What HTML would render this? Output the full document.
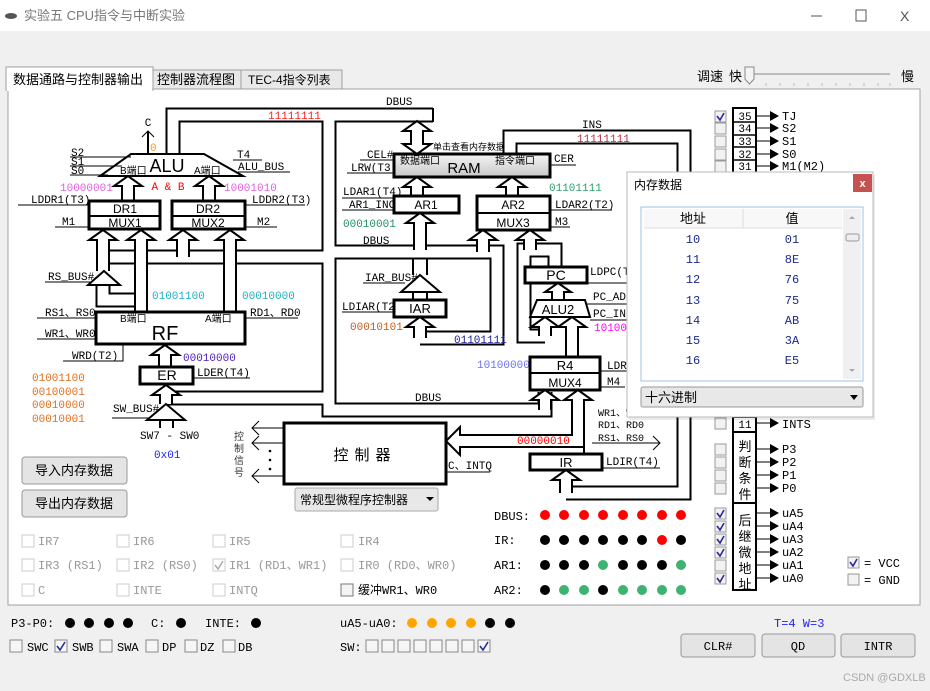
<!DOCTYPE html>
<html><head><meta charset="utf-8"><style>
html,body{margin:0;padding:0;width:930px;height:691px;overflow:hidden;background:#f0f0f0}
svg{display:block}
.m{font-family:"Liberation Mono","Noto Sans CJK SC",monospace;font-size:11px;fill:#000}
.s{font-family:"Liberation Sans","Noto Sans CJK SC",sans-serif;fill:#000}
.g{fill:#999}
</style></head><body>
<svg width="930" height="691" viewBox="0 0 930 691" xmlns="http://www.w3.org/2000/svg">
<!-- title bar -->
<rect x="0" y="0" width="930" height="31" fill="#fff"/>
<ellipse cx="11" cy="16" rx="6" ry="3" fill="#555"/>
<text x="24" y="20" class="s" font-size="13" fill="#777" style="fill:#777">实验五 CPU指令与中断实验</text>
<line x1="811" y1="16" x2="822" y2="16" stroke="#555"/>
<rect x="856" y="10" width="10" height="11" fill="none" stroke="#555"/>
<text x="900" y="21" class="s" font-size="14" style="fill:#555">X</text>
<!-- tabs -->
<rect x="8" y="89" width="912" height="516" fill="#fff" stroke="#a0a0a0"/>
<rect x="153" y="70" width="88" height="19" fill="#e8e8e8" stroke="#a0a0a0"/>
<rect x="241" y="70" width="101" height="19" fill="#e8e8e8" stroke="#a0a0a0"/>
<rect x="6" y="67" width="147" height="23" fill="#fff" stroke="#a0a0a0"/>
<rect x="7" y="88" width="145" height="3" fill="#fff"/>
<text x="13" y="84" class="s" font-size="13">数据通路与控制器输出</text>
<text x="157" y="84" class="s" font-size="13">控制器流程图</text>
<text x="248" y="84" class="s" font-size="12">TEC-4指令列表</text>
<text x="697" y="81" class="s" font-size="13">调速</text>
<text x="729" y="81" class="s" font-size="13">快</text>
<text x="901" y="81" class="s" font-size="13">慢</text>
<line x1="750" y1="74" x2="890" y2="74" stroke="#bbb" stroke-width="2"/>
<path d="M745,67 h9 v12 l-4.5,5 l-4.5,-5 z" fill="#f4f4f4" stroke="#888"/>
<g stroke="#bbb"><line x1="766" y1="83" x2="766" y2="86"/><line x1="780" y1="83" x2="780" y2="86"/><line x1="794" y1="83" x2="794" y2="86"/><line x1="808" y1="83" x2="808" y2="86"/><line x1="822" y1="83" x2="822" y2="86"/><line x1="836" y1="83" x2="836" y2="86"/><line x1="850" y1="83" x2="850" y2="86"/><line x1="864" y1="83" x2="864" y2="86"/><line x1="878" y1="83" x2="878" y2="86"/><line x1="890" y1="83" x2="890" y2="86"/></g>

<!-- buses -->
<defs>
<g id="bus" fill="none">
<path d="M173,154 V115 H433"/>
<path d="M329,115 V410 H545 V392"/>
<path d="M110,257 H329"/>
<path d="M329,252 H497 V338 H420"/>
<path d="M166,398 H329"/>
<path d="M510,154 V137 H684 V493 H566"/>
<path d="M555,267 V250 H524 V336 H545"/>
<path d="M103,285 V300 H141"/>
</g>
</defs>
<use href="#bus" stroke="#000" stroke-width="15"/>
<use href="#bus" stroke="#fff" stroke-width="11"/>
<line x1="433" y1="108" x2="433" y2="122" stroke="#000" stroke-width="2"/>

<!-- arrows -->
<g fill="#fff" stroke="#000" stroke-width="2">
<path d="M122,200 V186 H114 L128,176 L142,186 H134 V200"/>
<path d="M203,200 V186 H195 L209,176 L223,186 H215 V200"/>
<path d="M97,271 V240 H89 L103,230 L117,240 H109 V271"/>
<path d="M135,312 V240 H127 L141,230 L155,240 H147 V312"/>
<path d="M177,257 V240 H169 L183,230 L197,240 H189 V257"/>
<path d="M224,312 V240 H216 L230,230 L244,240 H236 V312"/>
<path d="M159,367 V355 H151 L165,345 L179,355 H171 V367"/>
<path d="M160,404 V395 H152 L166,385 L180,395 H172 V404"/>
<path d="M411,196 V187 H403 L417,177 L431,187 H423 V196"/>
<path d="M506,196 V187 H498 L512,177 L526,187 H518 V196"/>
<path d="M411,144 V131 H403 L417,121 L431,131 H423 V144 H431 L417,154 L403,144 Z"/>
<path d="M414,250 V223 H406 L420,213 L434,223 H426 V250"/>
<path d="M477,252 V240 H469 L483,230 L497,240 H489 V252"/>
<path d="M524,250 V240 H516 L530,230 L544,240 H536 V250"/>
<path d="M414,338 V327 H406 L420,317 L434,327 H426 V338"/>
<path d="M552,300 V292 H545 L558,283 L571,292 H564 V300"/>
<path d="M539,336 V327 H531 L545,317 L559,327 H551 V336"/>
<path d="M566,357 V327 H558 L572,317 L586,327 H578 V357"/>
<path d="M539,410 V400 H531 L545,390 L559,400 H551 V410"/>
<path d="M584,454 V447 H460 V455 L446,441 L460,427 V435 H572 V400 H564 L578,390 L592,400 H584 V454"/>
<path d="M560,493 V480 H552 L566,470 L580,480 H572 V493"/>
<polygon points="104,271 120,285 88,285"/>
<polygon points="420,275 440,292 401,292"/>
<polygon points="166,404 185,420 147,420"/>
</g>
<g stroke="#000" stroke-width="2"><line x1="413" y1="258" x2="413" y2="275"/><line x1="427" y1="258" x2="427" y2="275"/><line x1="413" y1="292" x2="413" y2="300"/><line x1="427" y1="292" x2="427" y2="300"/><line x1="160" y1="420" x2="160" y2="428"/><line x1="173" y1="420" x2="173" y2="428"/><line x1="148" y1="153" x2="148" y2="131"/></g>
<path d="M142,137 L148,131 L154,137" fill="none" stroke="#000"/>

<!-- ALU -->
<polygon points="131,154 204,154 243,176 100,176" fill="#fff" stroke="#000" stroke-width="2"/>
<text x="167" y="172" class="s" font-size="18" text-anchor="middle">ALU</text>
<text x="120" y="174" class="s" font-size="10">B端口</text>
<text x="194" y="174" class="s" font-size="10">A端口</text>
<text x="168" y="190" class="m" text-anchor="middle" style="fill:#f00">A &amp; B</text>
<text x="148" y="126" class="m" text-anchor="middle">C</text>
<text x="150" y="151" class="m" style="fill:#f0a020">0</text>
<g stroke="#000"><line x1="70" y1="157" x2="131" y2="157"/><line x1="70" y1="166" x2="122" y2="166"/><line x1="70" y1="175" x2="108" y2="175"/>
<line x1="233" y1="160" x2="262" y2="160"/><line x1="238" y1="172" x2="290" y2="172"/>
<line x1="18" y1="205" x2="89" y2="205"/><line x1="245" y1="205" x2="305" y2="205"/>
<line x1="55" y1="227" x2="89" y2="227"/><line x1="245" y1="227" x2="277" y2="227"/>
<line x1="45" y1="282" x2="90" y2="282"/>
<line x1="37" y1="318" x2="96" y2="318"/><line x1="37" y1="339" x2="96" y2="339"/><line x1="245" y1="318" x2="298" y2="318"/>
<polyline points="63,361 123,361 123,345" fill="none"/>
<line x1="193" y1="378" x2="250" y2="378"/><line x1="112" y1="418" x2="150" y2="418"/>
<line x1="360" y1="160" x2="393" y2="160"/><line x1="347" y1="173" x2="393" y2="173"/><line x1="550" y1="165" x2="576" y2="165"/>
<line x1="342" y1="198" x2="394" y2="198"/><line x1="342" y1="210" x2="394" y2="210"/>
<line x1="551" y1="210" x2="612" y2="210"/><line x1="551" y1="227" x2="570" y2="227"/>
<line x1="363" y1="283" x2="405" y2="283"/><line x1="342" y1="312" x2="394" y2="312"/>
<line x1="587" y1="283" x2="630" y2="283"/><line x1="583" y1="304" x2="630" y2="304"/><line x1="590" y1="320" x2="630" y2="320"/>
<line x1="600" y1="371" x2="630" y2="371"/><line x1="600" y1="387" x2="625" y2="387"/>
<line x1="446" y1="472" x2="490" y2="472"/><line x1="602" y1="468" x2="660" y2="468"/>
<line x1="592" y1="443" x2="660" y2="443"/>
<line x1="252" y1="428" x2="284" y2="428"/><line x1="252" y1="443" x2="284" y2="443"/><line x1="252" y1="476" x2="284" y2="476"/>
</g>
<g fill="none" stroke="#000"><path d="M653,436 L660,443 L653,450"/><path d="M259,421 L252,428 L259,435"/><path d="M259,436 L252,443 L259,450"/><path d="M259,469 L252,476 L259,483"/></g>
<g class="m">
<text x="71" y="156">S2</text><text x="71" y="165">S1</text><text x="71" y="174">S0</text>
<text x="237" y="158">T4</text><text x="238" y="170">ALU_BUS</text>
<text x="31" y="203">LDDR1(T3)</text><text x="252" y="203">LDDR2(T3)</text>
<text x="62" y="225">M1</text><text x="257" y="225">M2</text>
<text x="48" y="280">RS_BUS#</text>
<text x="45" y="316">RS1、RS0</text><text x="45" y="337">WR1、WR0</text><text x="250" y="316">RD1、RD0</text>
<text x="72" y="359">WRD(T2)</text><text x="197" y="376">LDER(T4)</text>
<text x="113" y="412">SW_BUS#</text><text x="140" y="439">SW7 - SW0</text>
<text x="386" y="105">DBUS</text><text x="582" y="128">INS</text>
<text x="367" y="158">CEL#</text><text x="351" y="171">LRW(T3)</text><text x="554" y="162">CER</text>
<text x="343" y="195">LDAR1(T4)</text><text x="349" y="208">AR1_INC</text>
<text x="363" y="244">DBUS</text>
<text x="555" y="208">LDAR2(T2)</text><text x="555" y="225">M3</text>
<text x="365" y="281">IAR_BUS#</text><text x="342" y="310">LDIAR(T2)</text>
<text x="590" y="275">LDPC(T4</text><text x="593" y="300">PC_ADD</text><text x="593" y="317">PC_INC</text>
<text x="607" y="369">LDR4</text><text x="607" y="385">M4</text>
<text x="415" y="401">DBUS</text>
<text x="448" y="469">C、INTQ</text><text x="606" y="465">LDIR(T4)</text>
</g>
<g class="m" font-size="10" style="font-size:10px"><text x="598" y="416">WR1、W</text><text x="598" y="428">RD1、RD0</text><text x="598" y="441">RS1、RS0</text></g>
<!-- colored numbers -->
<g class="m">
<text x="268" y="119" style="fill:#ff2020">11111111</text>
<text x="577" y="142" style="fill:#c03040">11111111</text>
<text x="60" y="191" style="fill:#e060e0">10000001</text><text x="224" y="191" style="fill:#e060e0">10001010</text>
<text x="152" y="299" style="fill:#20b0c0">01001100</text><text x="242" y="299" style="fill:#20b0c0">00010000</text>
<text x="183" y="361" style="fill:#5020c0">00010000</text>
<text x="32" y="381" style="fill:#e07020">01001100</text><text x="32" y="395" style="fill:#e07020">00100001</text><text x="32" y="408" style="fill:#e07020">00010000</text><text x="32" y="422" style="fill:#e07020">00010001</text>
<text x="154" y="458" style="fill:#2020ff">0x01</text>
<text x="549" y="191" style="fill:#30a070">01101111</text>
<text x="343" y="227" style="fill:#209060">00010001</text>
<text x="350" y="330" style="fill:#c06020">00010101</text>
<text x="454" y="343" style="fill:#2020a0">01101111</text>
<text x="594" y="331" style="fill:#ff00ff">10100000</text>
<text x="477" y="368" style="fill:#7070f0">10100000</text>
<text x="517" y="444" style="fill:#ff0000">00000010</text>
</g>
<!-- boxes -->
<defs><linearGradient id="rg" x1="0" y1="0" x2="0" y2="1"><stop offset="0" stop-color="#f4f4f4"/><stop offset="1" stop-color="#c8c8c8"/></linearGradient></defs>
<g stroke="#000" stroke-width="3" fill="#fff">
<rect x="89" y="201" width="71" height="28"/><rect x="172" y="201" width="73" height="28"/>
<rect x="96" y="312" width="149" height="32"/>
<rect x="140" y="367" width="53" height="17"/>
<rect x="394" y="154" width="156" height="23" fill="url(#rg)"/>
<rect x="394" y="196" width="65" height="17"/>
<rect x="477" y="196" width="73" height="34"/>
<rect x="394" y="300" width="52" height="17"/>
<rect x="525" y="267" width="62" height="16"/>
<rect x="530" y="357" width="70" height="33"/>
<rect x="530" y="454" width="72" height="16"/>
<rect x="284" y="423" width="162" height="61"/>
</g>
<g stroke="#000" stroke-width="2"><line x1="89" y1="216" x2="160" y2="216"/><line x1="172" y1="216" x2="245" y2="216"/><line x1="477" y1="213" x2="550" y2="213"/><line x1="530" y1="373" x2="600" y2="373"/></g>
<polygon points="537,300 585,300 590,317 530,317" fill="#fff" stroke="#000" stroke-width="2"/>
<g class="s" font-size="12" text-anchor="middle">
<text x="125" y="213">DR1</text><text x="125" y="227">MUX1</text>
<text x="208" y="213">DR2</text><text x="208" y="227">MUX2</text>
<text x="426" y="209">AR1</text><text x="513" y="209">AR2</text><text x="513" y="227">MUX3</text>
<text x="420" y="313" font-size="13">IAR</text><text x="556" y="280" font-size="14">PC</text>
<text x="558" y="314" font-size="13">ALU2</text>
<text x="565" y="370" font-size="13">R4</text><text x="565" y="387">MUX4</text>
<text x="566" y="467" font-size="13">IR</text>
<text x="165" y="340" font-size="20">RF</text>
<text x="167" y="380" font-size="14">ER</text>
<text x="464" y="173" font-size="15">RAM</text>
</g>
<text x="120" y="322" class="s" font-size="10">B端口</text><text x="205" y="322" class="s" font-size="10">A端口</text>
<text x="400" y="164" class="s" font-size="10">数据端口</text><text x="495" y="164" class="s" font-size="10">指令端口</text>
<text x="433" y="150" class="s" font-size="9">单击查看内存数据</text>
<text x="365" y="460" class="s" font-size="15" text-anchor="middle" letter-spacing="6">控制器</text>
<g class="s" font-size="10" style="fill:#333"><text x="234" y="440">控</text><text x="234" y="452">制</text><text x="234" y="464">信</text><text x="234" y="476">号</text></g>
<g fill="#000"><circle cx="270" cy="451" r="1.3"/><circle cx="270" cy="460" r="1.3"/><circle cx="270" cy="469" r="1.3"/></g>
<!-- dropdown -->
<rect x="295" y="488" width="143" height="23" rx="2" fill="#e8e8e8" stroke="#aaa"/>
<text x="300" y="504" class="s" font-size="12">常规型微程序控制器</text>
<path d="M426,497 l4,4 l4,-4 z" fill="#000"/>
<!-- buttons -->
<g><rect x="22" y="457" width="105" height="27" rx="3" fill="#e4e4e4" stroke="#999"/><text x="74" y="475" class="s" font-size="13" text-anchor="middle">导入内存数据</text>
<rect x="22" y="490" width="105" height="27" rx="3" fill="#e4e4e4" stroke="#999"/><text x="74" y="508" class="s" font-size="13" text-anchor="middle">导出内存数据</text></g>
<!-- checkboxes gray -->
<g fill="#fff" stroke="#ccc">
<rect x="22" y="535" width="12" height="12"/><rect x="117" y="535" width="12" height="12"/><rect x="213" y="535" width="12" height="12"/><rect x="341" y="535" width="12" height="12"/>
<rect x="22" y="559" width="12" height="12"/><rect x="117" y="559" width="12" height="12"/><rect x="213" y="559" width="12" height="12"/><rect x="341" y="559" width="12" height="12"/>
<rect x="22" y="584" width="12" height="12"/><rect x="117" y="584" width="12" height="12"/><rect x="213" y="584" width="12" height="12"/>
</g>
<rect x="341" y="584" width="12" height="12" fill="#f4f4f4" stroke="#777"/>
<path d="M215,565 l3,4 l5,-8" fill="none" stroke="#aaa" stroke-width="1.5"/>
<g class="m g" font-size="12" style="font-size:12px;fill:#999">
<text x="38" y="545">IR7</text><text x="133" y="545">IR6</text><text x="229" y="545">IR5</text><text x="358" y="545">IR4</text>
<text x="38" y="569">IR3 (RS1)</text><text x="133" y="569">IR2 (RS0)</text><text x="229" y="569">IR1 (RD1、WR1)</text><text x="358" y="569">IR0 (RD0、WR0)</text>
<text x="38" y="594">C</text><text x="133" y="594">INTE</text><text x="229" y="594">INTQ</text>
</g>
<text x="358" y="594" class="m" style="font-size:12px">缓冲WR1、WR0</text>
<!-- LEDs -->
<g class="m" style="font-size:12px"><text x="494" y="520">DBUS:</text><text x="494" y="544">IR:</text><text x="494" y="569">AR1:</text><text x="494" y="594">AR2:</text></g>
<g>
<g fill="#f00"><circle cx="545" cy="515" r="5"/><circle cx="564" cy="515" r="5"/><circle cx="584" cy="515" r="5"/><circle cx="603" cy="515" r="5"/><circle cx="623" cy="515" r="5"/><circle cx="642" cy="515" r="5"/><circle cx="662" cy="515" r="5"/><circle cx="681" cy="515" r="5"/></g>
<g fill="#000"><circle cx="545" cy="540" r="5"/><circle cx="564" cy="540" r="5"/><circle cx="584" cy="540" r="5"/><circle cx="603" cy="540" r="5"/><circle cx="623" cy="540" r="5"/><circle cx="642" cy="540" r="5"/><circle cx="681" cy="540" r="5"/>
<circle cx="545" cy="565" r="5"/><circle cx="564" cy="565" r="5"/><circle cx="584" cy="565" r="5"/><circle cx="623" cy="565" r="5"/><circle cx="642" cy="565" r="5"/><circle cx="662" cy="565" r="5"/>
<circle cx="545" cy="590" r="5"/><circle cx="603" cy="590" r="5"/></g>
<circle cx="662" cy="540" r="5" fill="#f00"/>
<g fill="#3cb371"><circle cx="603" cy="565" r="5"/><circle cx="681" cy="565" r="5"/><circle cx="564" cy="590" r="5"/><circle cx="584" cy="590" r="5"/><circle cx="623" cy="590" r="5"/><circle cx="642" cy="590" r="5"/><circle cx="662" cy="590" r="5"/><circle cx="681" cy="590" r="5"/></g>
</g>
<!-- right signal column -->
<g stroke="#000" stroke-width="2" fill="#fff">
<rect x="733" y="108" width="23" height="320"/>
<rect x="733" y="417" width="23" height="15"/>
<rect x="733" y="432" width="23" height="71"/>
<rect x="733" y="503" width="23" height="87"/>
</g>
<g stroke="#000" stroke-width="1.5"><line x1="733" y1="122" x2="756" y2="122"/><line x1="733" y1="135" x2="756" y2="135"/><line x1="733" y1="147" x2="756" y2="147"/><line x1="733" y1="160" x2="756" y2="160"/></g>
<g class="m" style="font-size:11px" text-anchor="middle"><text x="745" y="120">35</text><text x="745" y="132">34</text><text x="745" y="145">33</text><text x="745" y="158">32</text><text x="745" y="170">31</text><text x="745" y="428">11</text></g>
<g class="s" font-size="13" text-anchor="middle"><text x="745" y="451">判</text><text x="745" y="467">断</text><text x="745" y="483">条</text><text x="745" y="499">件</text>
<text x="745" y="525">后</text><text x="745" y="541">继</text><text x="745" y="557">微</text><text x="745" y="573">地</text><text x="745" y="589">址</text></g>
<g id="arr" stroke="#000">
<line x1="756" y1="116" x2="772" y2="116"/><line x1="756" y1="128" x2="772" y2="128"/><line x1="756" y1="141" x2="772" y2="141"/><line x1="756" y1="154" x2="772" y2="154"/><line x1="756" y1="166" x2="772" y2="166"/>
<line x1="756" y1="423" x2="772" y2="423"/><line x1="756" y1="449" x2="772" y2="449"/><line x1="756" y1="462" x2="772" y2="462"/><line x1="756" y1="475" x2="772" y2="475"/><line x1="756" y1="488" x2="772" y2="488"/>
<line x1="756" y1="513" x2="772" y2="513"/><line x1="756" y1="526" x2="772" y2="526"/><line x1="756" y1="539" x2="772" y2="539"/><line x1="756" y1="552" x2="772" y2="552"/><line x1="756" y1="565" x2="772" y2="565"/><line x1="756" y1="578" x2="772" y2="578"/>
</g>
<g fill="#000">
<path d="M770,111 l9,5 l-9,5z"/><path d="M770,123 l9,5 l-9,5z"/><path d="M770,136 l9,5 l-9,5z"/><path d="M770,149 l9,5 l-9,5z"/><path d="M770,161 l9,5 l-9,5z"/>
<path d="M770,418 l9,5 l-9,5z"/><path d="M770,444 l9,5 l-9,5z"/><path d="M770,457 l9,5 l-9,5z"/><path d="M770,470 l9,5 l-9,5z"/><path d="M770,483 l9,5 l-9,5z"/>
<path d="M770,508 l9,5 l-9,5z"/><path d="M770,521 l9,5 l-9,5z"/><path d="M770,534 l9,5 l-9,5z"/><path d="M770,547 l9,5 l-9,5z"/><path d="M770,560 l9,5 l-9,5z"/><path d="M770,573 l9,5 l-9,5z"/>
</g>
<g class="m" style="font-size:12px"><text x="782" y="120">TJ</text><text x="782" y="132">S2</text><text x="782" y="145">S1</text><text x="782" y="158">S0</text><text x="782" y="170">M1(M2)</text>
<text x="782" y="428">INTS</text><text x="782" y="453">P3</text><text x="782" y="466">P2</text><text x="782" y="479">P1</text><text x="782" y="492">P0</text>
<text x="782" y="517">uA5</text><text x="782" y="530">uA4</text><text x="782" y="543">uA3</text><text x="782" y="556">uA2</text><text x="782" y="569">uA1</text><text x="782" y="582">uA0</text></g>
<g fill="#f2f2f2" stroke="#999">
<rect x="715" y="111" width="11" height="11"/><rect x="715" y="123" width="11" height="11"/><rect x="715" y="136" width="11" height="11"/><rect x="715" y="149" width="11" height="11"/><rect x="715" y="161" width="11" height="11"/>
<rect x="715" y="418" width="11" height="11"/><rect x="715" y="444" width="11" height="11"/><rect x="715" y="457" width="11" height="11"/><rect x="715" y="470" width="11" height="11"/><rect x="715" y="483" width="11" height="11"/>
<rect x="715" y="508" width="11" height="11"/><rect x="715" y="521" width="11" height="11"/><rect x="715" y="534" width="11" height="11"/><rect x="715" y="547" width="11" height="11"/><rect x="715" y="560" width="11" height="11"/><rect x="715" y="573" width="11" height="11"/>
<rect x="848" y="557" width="11" height="11"/><rect x="848" y="574" width="11" height="11"/>
</g>
<g fill="none" stroke="#2a2a9a" stroke-width="1.6">
<path d="M717,116 l3,4 l4,-7"/><path d="M717,513 l3,4 l4,-7"/><path d="M717,526 l3,4 l4,-7"/><path d="M717,539 l3,4 l4,-7"/><path d="M717,552 l3,4 l4,-7"/><path d="M717,578 l3,4 l4,-7"/><path d="M850,562 l3,4 l4,-7"/>
</g>
<g class="m" style="font-size:12px"><text x="864" y="567">= VCC</text><text x="864" y="584">= GND</text></g>

<!-- dialog -->
<rect x="629" y="175" width="246" height="245" fill="#000" opacity="0.08"/>
<rect x="627" y="172" width="246" height="245" fill="#fff" stroke="#bbb"/>
<text x="634" y="189" class="s" font-size="12">内存数据</text>
<rect x="853" y="174" width="19" height="18" fill="#c75050"/>
<text x="862.5" y="187" class="s" font-size="11" text-anchor="middle" style="fill:#fff;font-weight:bold">x</text>
<rect x="641" y="207" width="222" height="174" fill="#fff" stroke="#9cc3e6"/>
<rect x="644" y="209" width="198" height="19" fill="#f8f8f8"/>
<line x1="644" y1="228" x2="842" y2="228" stroke="#ddd"/>
<line x1="743" y1="209" x2="743" y2="228" stroke="#ddd"/>
<text x="693" y="223" class="s" font-size="13" text-anchor="middle">地址</text>
<text x="792" y="223" class="s" font-size="13" text-anchor="middle">值</text>
<rect x="843" y="209" width="18" height="170" fill="#f0f0f0"/>
<rect x="846" y="234" width="13" height="7" rx="2" fill="#eee" stroke="#999"/>
<path d="M849,219 l3,-3 l3,3z M849,369 l3,3 l3,-3z" fill="#aaa"/>
<g class="m" style="font-size:12px;fill:#1a2a8a" text-anchor="middle">
<text x="693" y="243">10</text><text x="792" y="243">01</text>
<text x="693" y="263">11</text><text x="792" y="263">8E</text>
<text x="693" y="283">12</text><text x="792" y="283">76</text>
<text x="693" y="304">13</text><text x="792" y="304">75</text>
<text x="693" y="324">14</text><text x="792" y="324">AB</text>
<text x="693" y="344">15</text><text x="792" y="344">3A</text>
<text x="693" y="364">16</text><text x="792" y="364">E5</text>
</g>
<rect x="641" y="387" width="222" height="20" rx="2" fill="#e8e8e8" stroke="#999"/>
<text x="645" y="402" class="s" font-size="13">十六进制</text>
<path d="M850,395 l4,5 l4,-5z" fill="#000"/>

<!-- bottom status -->
<g class="m" style="font-size:12px">
<text x="11" y="627">P3-P0:</text><text x="151" y="627">C:</text><text x="205" y="627">INTE:</text><text x="340" y="627">uA5-uA0:</text>
<text x="27" y="651">SWC</text><text x="72" y="651">SWB</text><text x="117" y="651">SWA</text><text x="162" y="651">DP</text><text x="200" y="651">DZ</text><text x="238" y="651">DB</text><text x="340" y="651">SW:</text>
</g>
<g fill="#000"><circle cx="70" cy="623" r="5"/><circle cx="89" cy="623" r="5"/><circle cx="109" cy="623" r="5"/><circle cx="128" cy="623" r="5"/><circle cx="181" cy="623" r="5"/><circle cx="256" cy="623" r="5"/><circle cx="490" cy="623" r="5"/><circle cx="510" cy="623" r="5"/></g>
<g fill="#ffa500"><circle cx="412" cy="623" r="5"/><circle cx="432" cy="623" r="5"/><circle cx="451" cy="623" r="5"/><circle cx="471" cy="623" r="5"/></g>
<g fill="#f6f6f6" stroke="#888">
<rect x="10" y="640" width="12" height="12"/><rect x="55" y="640" width="12" height="12"/><rect x="100" y="640" width="12" height="12"/><rect x="146" y="640" width="12" height="12"/><rect x="185" y="640" width="12" height="12"/><rect x="223" y="640" width="12" height="12"/>
<rect x="366" y="640" width="12" height="12"/><rect x="382" y="640" width="12" height="12"/><rect x="398" y="640" width="12" height="12"/><rect x="414" y="640" width="12" height="12"/><rect x="430" y="640" width="12" height="12"/><rect x="446" y="640" width="12" height="12"/><rect x="462" y="640" width="12" height="12"/><rect x="478" y="640" width="12" height="12"/>
</g>
<g fill="none" stroke="#2a2a9a" stroke-width="1.6"><path d="M57,646 l3,4 l5,-8"/><path d="M480,646 l3,4 l5,-8"/></g>
<text x="774" y="627" class="m" style="font-size:12px;fill:#2020ff">T=4 W=3</text>
<g>
<rect x="681" y="634" width="74" height="23" rx="3" fill="#e4e4e4" stroke="#999"/><text x="718" y="650" class="m" style="font-size:12px" text-anchor="middle">CLR#</text>
<rect x="762" y="634" width="73" height="23" rx="3" fill="#e4e4e4" stroke="#999"/><text x="798" y="650" class="m" style="font-size:12px" text-anchor="middle">QD</text>
<rect x="841" y="634" width="74" height="23" rx="3" fill="#e4e4e4" stroke="#999"/><text x="878" y="650" class="m" style="font-size:12px" text-anchor="middle">INTR</text>
</g>
<text x="843" y="681" class="s" font-size="11" style="fill:#aaa">CSDN @GDXLB</text>
</svg>
</body></html>
